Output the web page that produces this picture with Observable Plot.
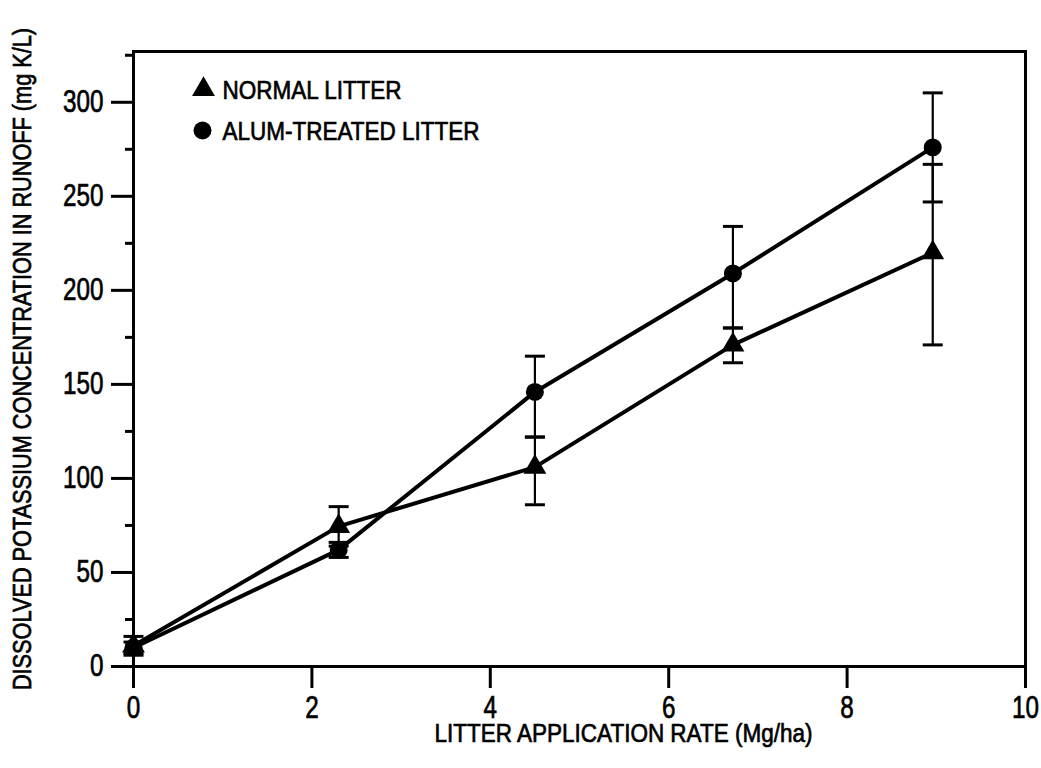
<!DOCTYPE html>
<html>
<head>
<meta charset="utf-8">
<script src="https://cdn.jsdelivr.net/npm/d3@7"></script>
<script src="https://cdn.jsdelivr.net/npm/@observablehq/plot@0.6"></script>
<style>
  html, body { margin: 0; padding: 0; background: #fff; }
  #chart { width: 1041px; height: 768px; }
  #chart svg text { stroke: black; stroke-width: 0.7px; }
</style>
</head>
<body>
<div id="chart"></div>
<script>
// ---- data ----
const rates    = [0, 2.3, 4.5, 6.72, 8.96];          // litter application rate (Mg/ha)
const normalK  = [11, 74.5, 106, 171, 220];          // NORMAL LITTER mean
const normalLo = [6, 64, 86, 161.5, 171];
const normalHi = [16, 85, 122, 180, 267];
const alumK    = [10, 62, 146, 209, 276];            // ALUM-TREATED LITTER mean
const alumLo   = [7, 58, 122, 180, 247];
const alumHi   = [13, 66, 165, 234, 305];

const xTicks      = [0, 2, 4, 6, 8, 10];
const yTicks      = [0, 50, 100, 150, 200, 250, 300];
const yMinorTicks = [25, 75, 125, 175, 225, 275, 325];

const seriesNames = ["NORMAL LITTER", "ALUM-TREATED LITTER"];
const xTitle = "LITTER APPLICATION RATE (Mg/ha)";
const yTitle = "DISSOLVED POTASSIUM CONCENTRATION IN RUNOFF (mg K/L)";

// ---- build tables ----
const normal = rates.map((r, i) => ({rate: r, k: normalK[i], lo: normalLo[i], hi: normalHi[i]}));
const alum   = rates.map((r, i) => ({rate: r, k: alumK[i], lo: alumLo[i], hi: alumHi[i]}));
const both = normal.concat(alum);

const cap = {draw(context) { context.moveTo(-10, 0); context.lineTo(10, 0); }};

const FONT = "'Liberation Sans', Arial, sans-serif";

const chart = Plot.plot({
  width: 1041,
  height: 768,
  marginLeft: 133,
  marginRight: 16,
  marginTop: 51,
  marginBottom: 102,
  style: {fontFamily: FONT, background: "white", color: "black"},
  x: {domain: [0, 10]},
  y: {domain: [0, 327]},
  marks: [
    Plot.frame({stroke: "black", strokeWidth: 3}),
    Plot.axisX({ticks: xTicks, tickSize: 22, tickPadding: 7, tickFormat: d => String(d),
                fontSize: 31, strokeWidth: 3, label: null, className: "ticklab"}),
    Plot.axisY({ticks: yTicks, tickSize: 22, tickPadding: 8, tickFormat: d => String(d),
                fontSize: 31, strokeWidth: 3, label: null, className: "ticklab"}),
    Plot.axisY({ticks: yMinorTicks, tickSize: 8, tickFormat: () => "", strokeWidth: 3, label: null}),
    // error bars
    Plot.ruleX(both, {x: "rate", y1: "lo", y2: "hi", stroke: "black", strokeWidth: 2.2}),
    Plot.dot(both, {x: "rate", y: "lo", symbol: cap, stroke: "black", strokeWidth: 3}),
    Plot.dot(both, {x: "rate", y: "hi", symbol: cap, stroke: "black", strokeWidth: 3}),
    // lines
    Plot.line(normal, {x: "rate", y: "k", stroke: "black", strokeWidth: 4}),
    Plot.line(alum, {x: "rate", y: "k", stroke: "black", strokeWidth: 4}),
    // markers
    Plot.dot(alum, {x: "rate", y: "k", symbol: "circle", r: 9, fill: "black", stroke: "none"}),
    Plot.dot(normal, {x: "rate", y: "k", symbol: "triangle", r: 8.5, fill: "black", stroke: "none"}),
    // legend
    Plot.dot([seriesNames[0]], {frameAnchor: "top-left", dx: 70, dy: 38, symbol: "triangle", r: 8.5, fill: "black"}),
    Plot.dot([seriesNames[1]], {frameAnchor: "top-left", dx: 69, dy: 79, symbol: "circle", r: 9, fill: "black"}),
    Plot.text([seriesNames[0]], {text: d => d, frameAnchor: "top-left", dx: 89, dy: 39, textAnchor: "start",
                lineAnchor: "middle", fontSize: 26, fill: "black", className: "ttl"}),
    Plot.text([seriesNames[1]], {text: d => d, frameAnchor: "top-left", dx: 89, dy: 80, textAnchor: "start",
                lineAnchor: "middle", fontSize: 26, fill: "black", className: "ttl"}),
    // axis titles
    Plot.text([xTitle], {text: d => d, frameAnchor: "bottom", dx: 44, dy: 67, lineAnchor: "middle",
                textAnchor: "middle", fontSize: 26, fill: "black", className: "ttl"}),
    Plot.text([yTitle], {text: d => d, frameAnchor: "left", dx: -111, rotate: -90, lineAnchor: "middle",
                textAnchor: "middle", fontSize: 26, fill: "black", className: "ytl"})
  ]
});
document.getElementById("chart").appendChild(chart);

// narrow the glyphs to imitate the condensed lettering of the original
function squeeze(selector, factor) {
  chart.querySelectorAll(selector + " text").forEach(t => {
    const len = t.getComputedTextLength();
    if (len > 0) {
      t.setAttribute("textLength", (len * factor).toFixed(1));
      t.setAttribute("lengthAdjust", "spacingAndGlyphs");
    }
  });
}
squeeze(".ticklab", 0.78);
squeeze(".ttl", 0.865);
squeeze(".ytl", 0.835);
</script>
</body>
</html>
